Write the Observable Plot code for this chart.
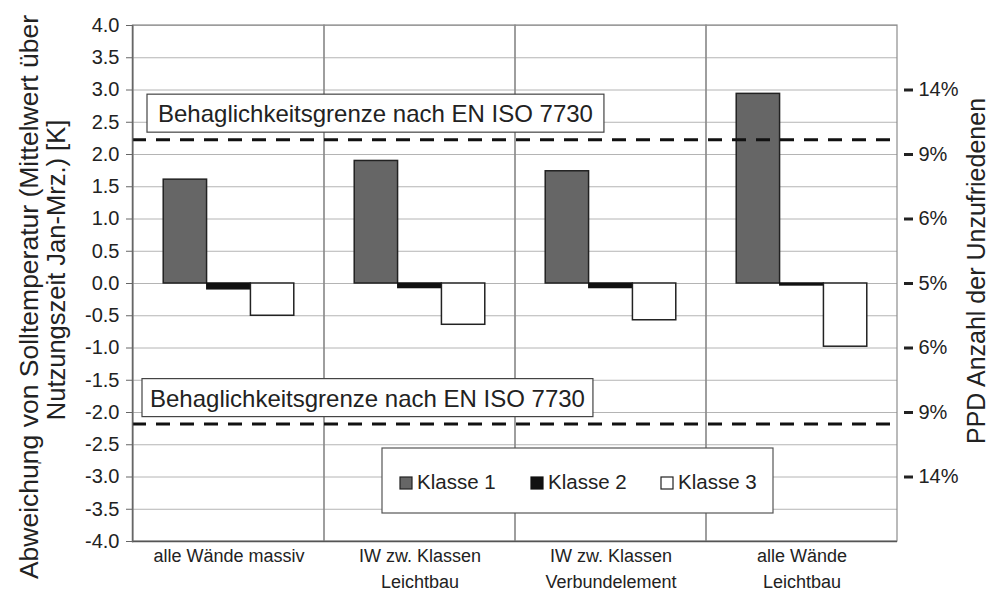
<!DOCTYPE html>
<html><head><meta charset="utf-8">
<script src="https://cdn.jsdelivr.net/npm/d3@7"></script>
<script src="https://cdn.jsdelivr.net/npm/@observablehq/plot@0.6"></script>
<style>
body{margin:0;background:#fff;}
#chart{position:relative;width:1008px;height:599px;}
</style></head><body><div id="chart"></div>
<script>
// ---- data ----
const categories = ["alle Wände massiv", "IW zw. Klassen Leichtbau", "IW zw. Klassen Verbundelement", "alle Wände Leichtbau"];
const categoryLabels = ["alle Wände massiv", "IW zw. Klassen\nLeichtbau", "IW zw. Klassen\nVerbundelement", "alle Wände\nLeichtbau"];
const classes = ["Klasse 1", "Klasse 2", "Klasse 3"];
const klasse1 = [1.61, 1.90, 1.74, 2.94];
const klasse2 = [-0.09, -0.07, -0.07, -0.03];
const klasse3 = [-0.50, -0.64, -0.57, -0.98];
const yTicks = [-4, -3.5, -3, -2.5, -2, -1.5, -1, -0.5, 0, 0.5, 1, 1.5, 2, 2.5, 3, 3.5, 4];
const ppdTicks = [3, 2, 1, 0, -1, -2, -3];
const ppdLabels = ["14%", "9%", "6%", "5%", "6%", "9%", "14%"];
const comfortLimits = [2.23, -2.18];
const limitLabel = "Behaglichkeitsgrenze nach EN ISO 7730";
const yTitle = ["Abweichung von Solltemperatur (Mittelwert über", "Nutzungszeit Jan-Mrz.) [K]"];
const y2Title = "PPD Anzahl der Unzufriedenen";

const series = [klasse1, klasse2, klasse3];
const fills = ["#666666", "#111111", "#ffffff"];
const strokes = ["#222222", "#111111", "#222222"];
const rows = categories.flatMap((c, i) => classes.map((k, j) => ({cat: c, klasse: k, j, v: series[j][i]})));

// ---- layout ----
const W = 1008, H = 599, mL = 132, mR = 111, mT = 25, mB = 58;
const bw = (W - mL - mR) / categories.length;
const barW = bw * 0.228;
const inset = (bw - barW) / 2;
const font = "'Liberation Sans', Arial, sans-serif";
const narrow = "'Liberation Sans Narrow', 'Arial Narrow', 'Liberation Sans', Arial, sans-serif";

const barMarks = classes.map((k, j) => Plot.barY(rows.filter(r => r.j === j), {
  x: "cat", y: "v", insetLeft: inset, insetRight: inset, dx: (j - 1) * barW,
  fill: fills[j], stroke: strokes[j], strokeWidth: 1.5
}));

const plot = Plot.plot({
  width: W, height: H,
  marginLeft: mL, marginRight: mR, marginTop: mT, marginBottom: mB,
  style: {fontFamily: font, fontSize: "19px", color: "#222", background: "#fff", overflow: "visible"},
  x: {domain: categories, padding: 0},
  y: {domain: [-4, 4]},
  marks: [
    Plot.gridY(yTicks, {stroke: "#b4b4b4", strokeOpacity: 1, strokeWidth: 1}),
    Plot.barY(categories, {x: d => d, y1: -4, y2: 4, fill: "none", stroke: "#8c8c8c", strokeWidth: 1.2}),
    ...barMarks,
    Plot.ruleY(comfortLimits, {stroke: "#111", strokeWidth: 3, strokeDasharray: "14,10"}),
    Plot.ruleY([-4], {stroke: "#555", strokeWidth: 1.5}),
    Plot.frame({anchor: "left", stroke: "#666", strokeWidth: 1.5}),
    Plot.axisY({ticks: yTicks, tickFormat: d => d.toFixed(1), tickSize: 6, tickPadding: 7, fontSize: 20, stroke: "#666", label: null}),
    Plot.axisY({anchor: "right", ticks: ppdTicks, tickFormat: d => ppdLabels[ppdTicks.indexOf(d)], tickSize: 9, tickPadding: 6, strokeWidth: 3, dx: 6, fontSize: 20, label: null}),
    Plot.axisX({tickSize: 0, tickPadding: 3, tickFormat: d => categoryLabels[categories.indexOf(d)], fontSize: 18, fontFamily: narrow, lineHeight: 1.4, label: null})
  ]
});

document.getElementById("chart").appendChild(plot);

// ---- annotations, titles, legend ----
const svg = d3.select(plot);
const ys = plot.scale("y");
const boxLeft = [mL + 15, mL + 10];
const pad = [11, 8];
comfortLimits.forEach((lim, i) => {
  const yp = ys.apply(lim);
  const g = svg.append("g");
  const rect = g.append("rect").attr("fill", "#fff").attr("stroke", "#444").attr("stroke-width", 1.2);
  const t = g.append("text").attr("x", boxLeft[i] + pad[i]).attr("y", yp - 17)
    .attr("text-anchor", "start").attr("font-family", font).attr("font-size", 24).attr("fill", "#222").text(limitLabel);
  const tw = t.node().getComputedTextLength();
  rect.attr("x", boxLeft[i]).attr("y", yp - 45).attr("width", tw + 2 * pad[i]).attr("height", 38);
});

function vtext(x, y, size, txt, fill) {
  svg.append("text").attr("transform", `translate(${x},${y}) rotate(-90)`).attr("text-anchor", "middle")
    .attr("font-family", font).attr("font-size", size).attr("fill", fill || "#222").text(txt);
}
vtext(38, 297, 26.5, yTitle[0]);
vtext(65, 270, 25.5, yTitle[1]);
vtext(48, 463, 14, "'", "#333");
vtext(985, 271, 25, y2Title);

const lg = svg.append("g");
lg.append("rect").attr("x", 382).attr("y", 448).attr("width", 391).attr("height", 65)
  .attr("fill", "#fff").attr("stroke", "#555").attr("stroke-width", 1.2);
const lgX = [400, 531, 661];
classes.forEach((k, j) => {
  lg.append("rect").attr("x", lgX[j]).attr("y", 477).attr("width", 12).attr("height", 12)
    .attr("fill", fills[j]).attr("stroke", strokes[j]).attr("stroke-width", 1.2);
  lg.append("text").attr("x", lgX[j] + 17).attr("y", 489).attr("text-anchor", "start").attr("font-family", font)
    .attr("font-size", 20.5).attr("fill", "#222").text(k);
});
</script></body></html>
